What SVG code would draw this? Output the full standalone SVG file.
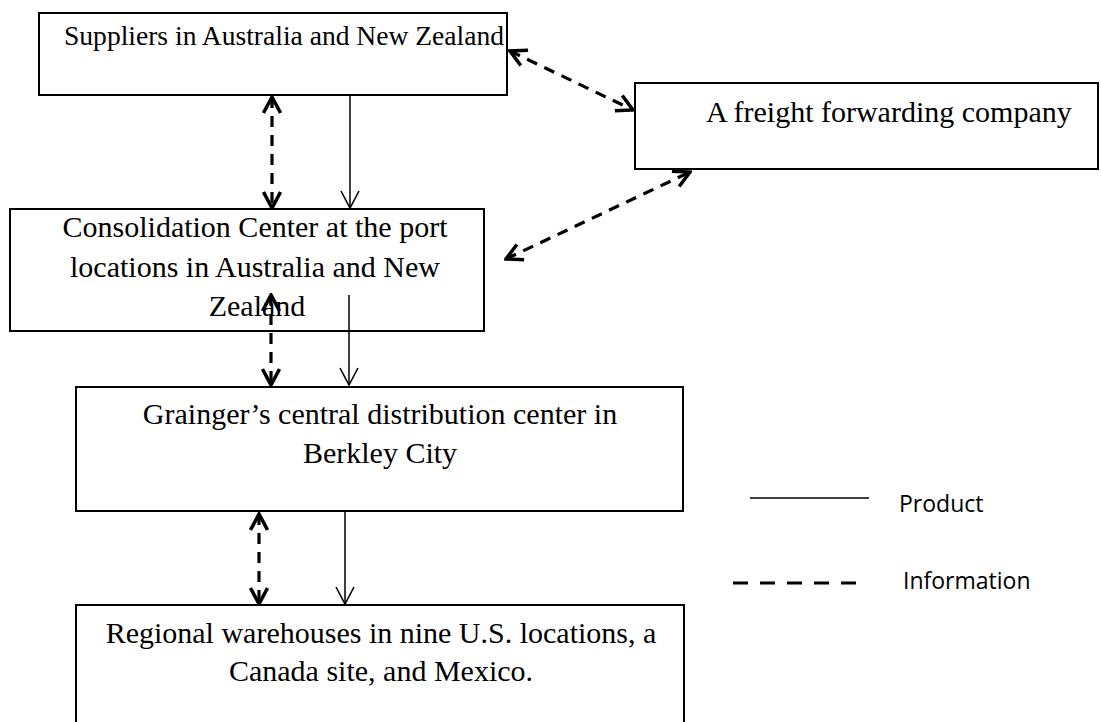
<svg xmlns="http://www.w3.org/2000/svg" width="1101" height="722" viewBox="0 0 1101 722">
<style>
.box{fill:#fff;stroke:#000;stroke-width:2}
.t{font-family:"Liberation Serif","Times New Roman",serif;font-size:30px;fill:#000}
.ts{font-family:"Liberation Serif","Times New Roman",serif;font-size:27px;fill:#000}
.lg{font-family:"Open Sans","Liberation Sans",sans-serif;font-size:23px;fill:#000}
.info{fill:none;stroke:#000;stroke-width:3.2;stroke-dasharray:11 8}
.prod{fill:none;stroke:#000;stroke-width:1.5}
</style>
<defs>
<marker id="hb" viewBox="0 0 20 20" refX="18" refY="10" markerWidth="20" markerHeight="20" markerUnits="userSpaceOnUse" orient="auto-start-reverse">
<path d="M2,1.5 L18,10 L2,18.5" fill="none" stroke="#000" stroke-width="3.5" stroke-dasharray="none"/>
</marker>
<marker id="ht" viewBox="0 0 20 20" refX="19" refY="10" markerWidth="20" markerHeight="20" markerUnits="userSpaceOnUse" orient="auto">
<path d="M2,1 L19,10 L2,19" fill="none" stroke="#000" stroke-width="1.6"/>
</marker>
</defs>
<rect width="1101" height="722" fill="#fff"/>
<g id="node-suppliers">
<rect class="box" x="39" y="13" width="468" height="82"/>
<text class="ts" x="64" y="45" textLength="440" lengthAdjust="spacingAndGlyphs">Suppliers in Australia and New Zealand</text>
</g>
<g id="node-freight">
<rect class="box" x="635" y="83" width="463" height="86"/>
<text class="t" x="706" y="122">A freight forwarding company</text>
</g>
<g id="node-consolidation">
<rect class="box" x="10" y="209" width="474" height="122"/>
<text class="t" x="255" y="237" text-anchor="middle">Consolidation Center at the port</text>
<text class="t" x="255" y="277" text-anchor="middle">locations in Australia and New</text>
<text class="t" x="257" y="316" text-anchor="middle">Zealand</text>
</g>
<g id="node-grainger">
<rect class="box" x="76" y="387" width="607" height="124"/>
<text class="t" x="380" y="424" text-anchor="middle">Grainger’s central distribution center in</text>
<text class="t" x="380" y="463" text-anchor="middle">Berkley City</text>
</g>
<g id="node-regional">
<rect class="box" x="76" y="605" width="608" height="130"/>
<text class="t" x="381" y="643" text-anchor="middle">Regional warehouses in nine U.S. locations, a</text>
<text class="t" x="381" y="681" text-anchor="middle">Canada site, and Mexico.</text>
</g>
<g id="connectors">
<line class="info" x1="272" y1="97" x2="272" y2="208" marker-start="url(#hb)" marker-end="url(#hb)"/>
<line class="prod" x1="350" y1="96" x2="350" y2="208" marker-end="url(#ht)"/>
<line class="info" x1="271" y1="295" x2="271" y2="385" marker-start="url(#hb)" marker-end="url(#hb)"/>
<line class="prod" x1="349" y1="295" x2="349" y2="385" marker-end="url(#ht)"/>
<line class="info" x1="259" y1="514" x2="259" y2="604" marker-start="url(#hb)" marker-end="url(#hb)"/>
<line class="prod" x1="345" y1="512" x2="345" y2="604" marker-end="url(#ht)"/>
<line class="info" x1="510" y1="51" x2="633" y2="110" marker-start="url(#hb)" marker-end="url(#hb)"/>
<line class="info" x1="506" y1="259" x2="690" y2="172" marker-start="url(#hb)" marker-end="url(#hb)"/>
</g>
<g id="legend">
<line x1="750" y1="498" x2="869" y2="498" stroke="#000" stroke-width="1.6"/>
<text class="lg" x="899" y="512">Product</text>
<line x1="733" y1="583" x2="857" y2="583" stroke="#000" stroke-width="3" stroke-dasharray="15 12"/>
<text class="lg" x="903" y="589">Information</text>
</g>
</svg>
